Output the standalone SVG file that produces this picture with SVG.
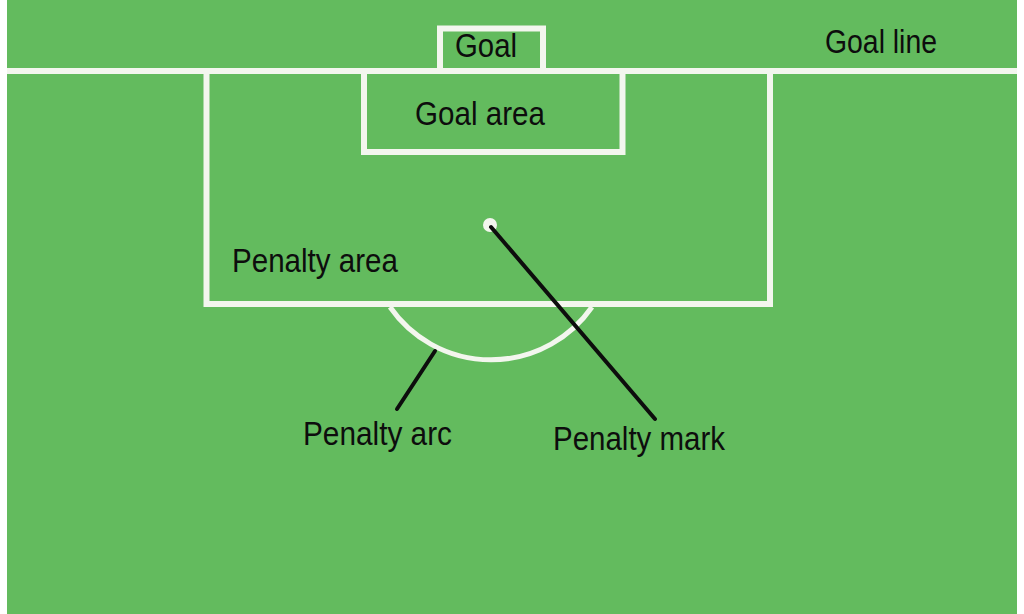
<svg xmlns="http://www.w3.org/2000/svg" width="1024" height="614" viewBox="0 0 1024 614">
<style>
.line{fill:none;stroke:#f3f6ee;stroke-width:6}
.lead{stroke:#0d0d0d;stroke-width:4;stroke-linecap:round}
.lbl{font-family:"Liberation Sans",Arial,sans-serif;font-size:34px;fill:#0d0d0d}
</style>
<rect x="0" y="0" width="1024" height="614" fill="#ffffff"/>
<rect x="7" y="0" width="1010" height="614" fill="#63bb5e"/>
<g id="goal-line"><line class="line" x1="7" y1="71" x2="1017" y2="71"/></g>
<g id="goal"><polyline class="line" points="440,71 440,28.5 543,28.5 543,71"/></g>
<g id="goal-area"><polyline class="line" points="364,71 364,152 622.5,152 622.5,71"/></g>
<g id="penalty-area"><polyline class="line" points="206.5,71 206.5,304 770,304 770,71"/></g>
<g id="penalty-arc"><path d="M390,307 A123,123 0 0 0 592,307" fill="#67bd61" stroke="#f3f6ee" stroke-width="5"/></g>
<g id="penalty-mark"><circle cx="490" cy="225" r="7" fill="#f3f6ee"/></g>
<g id="connectors">
<line class="lead" x1="491" y1="227" x2="655" y2="419"/>
<line class="lead" x1="435" y1="351" x2="397" y2="409"/>
</g>
<g id="labels">
<text class="lbl" x="455" y="57" textLength="62" lengthAdjust="spacingAndGlyphs">Goal</text>
<text class="lbl" x="825" y="53" textLength="112" lengthAdjust="spacingAndGlyphs">Goal line</text>
<text class="lbl" x="415" y="125" textLength="130" lengthAdjust="spacingAndGlyphs">Goal area</text>
<text class="lbl" x="232" y="272" textLength="166" lengthAdjust="spacingAndGlyphs">Penalty area</text>
<text class="lbl" x="303" y="445" textLength="149" lengthAdjust="spacingAndGlyphs">Penalty arc</text>
<text class="lbl" x="553" y="450" textLength="172" lengthAdjust="spacingAndGlyphs">Penalty mark</text>
</g>
</svg>
